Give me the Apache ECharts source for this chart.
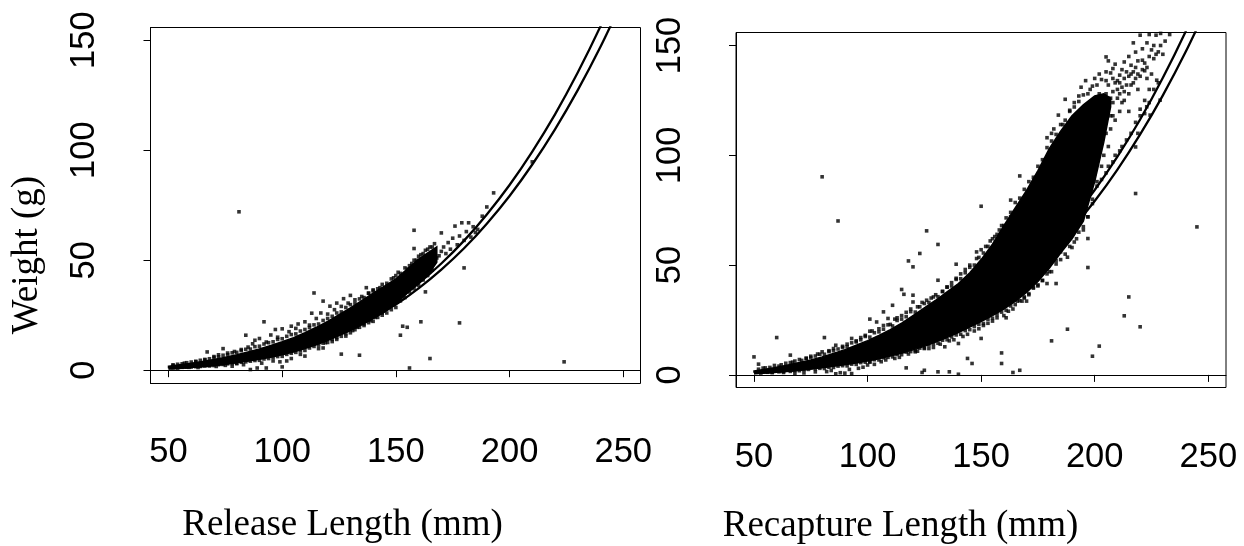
<!DOCTYPE html>
<html>
<head>
<meta charset="utf-8">
<script src="https://cdn.jsdelivr.net/npm/echarts@6/dist/echarts.min.js"></script>
<style>
html,body{margin:0;padding:0;background:#fff;}
#chart{width:1244px;height:546px;}
</style>
</head>
<body>
<div id="chart"></div>
<script>
// ---------------- data ----------------
const xTicks = [50, 100, 150, 200, 250];
const yTicks = [0, 50, 100, 150];
const xTitleLeft = 'Release Length (mm)';
const xTitleRight = 'Recapture Length (mm)';
const yTitle = 'Weight (g)';

// fitted length-weight curves
const curveAL = [50, 75, 100, 125, 150, 160, 170, 180, 190, 200, 210, 220, 230, 240, 250];
const curveAW = [0.8, 3.0, 8.0, 17.1, 31.8, 39.5, 48.5, 58.9, 70.8, 84.2, 99.4, 116.3, 135.3, 156.3, 179.4];
const curveBL = [50, 75, 100, 125, 150, 160, 170, 180, 190, 200, 210, 220, 230, 240, 250];
const curveBW = [0.7, 2.85, 7.6, 16.1, 29.9, 37.2, 45.7, 55.4, 66.6, 79.2, 93.5, 109.5, 127.3, 147.0, 168.9];

// dense core of the release-length cloud (lower / upper edge)
const relCoreL    = [50, 55, 60, 65, 70, 75, 80, 85, 90, 95, 100, 105, 110, 115, 120, 125, 130, 135, 140, 145, 150, 155, 160, 165, 168];
const relCoreLow  = [1.2, 1.4, 1.7, 2.0, 2.4, 2.9, 3.5, 4.2, 5.0, 5.9, 7.0, 8.3, 9.8, 11.5, 13.5, 15.7, 18.0, 20.6, 23.4, 26.4, 30, 35, 39.5, 44.5, 49];
const relCoreHigh = [1.8, 2.5, 3.2, 4.0, 4.9, 5.9, 7.0, 8.3, 9.7, 11.2, 12.9, 14.8, 17.0, 19.5, 22.2, 25.2, 28.3, 31.6, 35.0, 38.2, 41.5, 46, 50.5, 54, 56];

// individual release points: sparse points and outliers
const relPoints = [
 [52,2.4],[54,1.0],[57,3.2],[59,1.3],[62,3.9],[63,1.2],[66,4.6],[67,8.3],[68,2.0],[70,6.2],[71,1.7],[72,7.0],[74,9.8],[75,2.2],[76,7.8],[78,1.8],[79,8.5],[80,3.0],[81,72.0],[82,9.4],[83,2.5],[84,15.9],[85,10.5],[86,0.3],[87,12.0],[88,13.6],[89,1.0],[90,14.4],[91,3.2],[92,22.0],[93,1.0],[93,12.8],[95,16.0],[96,4.2],[97,18.5],[98,15.0],[99,3.8],[100,1.5],[100,18.8],[102,4.2],[103,17.5],[104,5.3],[104,20.0],[106,19.0],[107,21.0],[108,7.2],[110,6.4],[110,22.0],[112,20.5],[113,25.9],[114,35.1],[115,23.5],[116,9.8],[117,26.0],[118,10.1],[118,31.4],[119,12.5],[120,25.5],[121,29.1],[122,13.0],[123,27.5],[124,14.0],[124,30.5],[126,7.3],[126,29.0],[127,32.5],[128,15.5],[129,30.5],[130,34.0],[131,18.0],[132,32.0],[133,19.5],[134,6.8],[135,33.5],[136,21.0],[137,37.5],[138,35.0],[139,22.5],[140,36.0],[141,24.0],[142,34.0],[143,37.5],[144,26.0],[144,35.6],[145,35.5],[146,28.0],[147,38.0],[148,30.0],[149,42.0],[150,37.1],[150,33.0],[151,44.5],[152,15.9],[153,20.0],[153,36.0],[155,19.5],[155,46.0],[156,1.0],[156,38.5],[157,48.5],[158,63.6],[158,55.3],[158,40.0],[159,50.0],[160,43.0],[161,22.0],[161,52.5],[162,45.0],[163,35.6],[163,54.5],[164,47.0],[165,5.3],[165,56.0],[166,49.0],[167,57.5],[168,51.0],[169,52.0],[170,62.4],[170,54.0],[171,56.0],[172,53.0],[173,58.0],[174,55.0],[175,60.0],[176,65.5],[177,57.0],[178,21.5],[178,61.0],[179,67.0],[180,46.5],[180,59.0],[181,63.0],[182,67.0],[183,60.5],[184,65.2],[185,62.6],[186,64.0],[188,70.0],[190,74.2],[193,80.6],[210,94.7],[224,3.8]
];
// release points hugging the upper / lower edge of the core
const relUpperFringe = [
 [52,2.2],[54,2.7],[56,2.9],[58,3.4],[60,3.7],[62,4.0],[64,4.5],[66,4.9],[68,5.2],[70,5.8],[72,6.0],[74,6.8],[76,7.0],[78,7.9],[80,8.1],[82,8.9],[84,9.5],[86,9.6],[88,10.7],[90,10.9],[92,11.9],[94,12.5],[96,12.9],[98,14.0],[100,14.3],[102,15.4],[104,16.2],[106,16.5],[108,17.8],[110,18.5],[112,19.4],[114,20.6],[116,21.0],[118,22.6],[120,23.5],[122,24.5],[124,26.0],[126,26.5],[128,28.5],[130,29.8],[132,30.5],[134,32.4],[136,33.0],[138,35.0],[140,36.5],[142,37.0],[144,39.0],[146,39.5],[148,41.5],[150,43.0],[152,44.0],[154,46.5],[156,47.5],[158,50.0],[160,51.8],[162,53.0],[164,55.0],[166,56.0]
];
const relLowerFringe = [
 [52,1.1],[54,1.2],[56,1.3],[58,1.4],[60,1.5],[62,1.6],[64,1.7],[66,1.9],[68,2.1],[70,2.1],[72,2.5],[74,2.6],[76,2.9],[78,3.0],[80,3.1],[82,3.6],[84,3.8],[86,4.1],[88,4.4],[90,4.5],[92,5.1],[94,5.3],[96,5.8],[98,6.2],[100,6.3],[102,7.2],[104,7.7],[106,8.1],[108,8.8],[110,9.0],[112,10.1],[114,10.8],[116,11.4],[118,12.3],[120,12.6],[122,14.0],[124,14.8],[126,15.4],[128,16.6],[130,17.0],[132,18.4],[134,19.5],[136,20.3],[138,21.6],[140,22.2],[142,24.0],[144,25.0],[146,26.0],[148,27.5],[150,28.5],[152,31.5],[154,33.0],[156,35.5],[158,37.0],[160,38.5],[162,41.0],[164,43.0],[166,45.5]
];

// dense core of the recapture-length cloud (lower / upper edge)
const recCoreL    = [50, 55, 60, 65, 70, 75, 80, 85, 90, 95, 100, 105, 110, 115, 120, 125, 130, 135, 140, 145, 150, 155, 160, 165, 170, 175, 180, 185, 190, 195, 200, 204, 207];
const recCoreLow  = [1.3, 1.4, 1.6, 1.9, 2.3, 2.8, 3.3, 3.9, 4.6, 5.4, 6.3, 7.4, 8.6, 9.9, 11.4, 13.0, 15.0, 17.0, 19.3, 21.8, 24.3, 27.0, 30.0, 33.5, 37.5, 42.5, 48.5, 55.5, 62, 70, 88, 106, 122];
const recCoreHigh = [1.8, 2.6, 3.5, 4.5, 5.6, 6.8, 8.2, 9.8, 11.5, 13.5, 15.6, 18.0, 20.6, 23.6, 27.0, 30.5, 34.0, 37.8, 41.6, 46.5, 52.5, 59.5, 68, 76, 84, 93, 103, 111, 118, 123, 127, 128, 126];

// individual recapture points: sparse points and outliers
const recPoints = [
 [50,8.2],[52,4.9],[53,0.9],[55,3.2],[58,1.0],[60,17.0],[61,4.0],[63,1.1],[66,9.0],[67,5.8],[68,0.6],[70,7.0],[72,0.9],[73,7.5],[75,8.5],[77,1.4],[78,9.5],[80,90.2],[80,10.5],[81,17.0],[82,1.5],[83,11.0],[84,2.0],[85,12.0],[86,13.5],[86,0.5],[87,70.1],[88,1.0],[89,12.5],[90,0.8],[91,14.0],[92,2.5],[93,16.6],[93,0.6],[95,15.5],[96,3.0],[97,17.0],[98,3.5],[99,18.0],[100,4.5],[101,25.4],[101,19.9],[101,5.9],[102,20.0],[103,4.8],[104,24.1],[105,21.0],[106,6.0],[107,28.7],[107,22.5],[108,6.8],[109,25.7],[110,23.0],[111,31.7],[112,25.4],[112,7.5],[113,26.0],[114,8.0],[115,38.9],[115,27.0],[116,36.7],[117,3.2],[117,28.5],[118,51.9],[118,9.5],[119,30.0],[120,49.2],[120,36.3],[120,33.2],[121,10.5],[122,10.8],[122,31.0],[123,55.3],[124,1.1],[124,33.0],[125,2.1],[125,12.0],[126,65.6],[126,34.0],[127,12.0],[128,35.0],[129,12.5],[130,36.5],[131,59.4],[131,43.1],[131,1.4],[132,14.0],[133,38.0],[134,12.8],[135,40.0],[136,1.4],[136,15.5],[137,42.0],[138,16.0],[139,50.4],[139,44.0],[140,0.3],[140,14.3],[141,46.0],[142,17.5],[143,48.0],[144,7.5],[144,18.5],[145,50.0],[146,5.2],[147,20.0],[148,56.0],[148,53.0],[149,21.0],[150,76.8],[150,16.6],[150,57.0],[151,22.5],[152,58.5],[153,23.5],[154,61.0],[155,24.5],[156,63.0],[157,26.0],[158,66.0],[159,10.0],[159,5.2],[160,27.0],[160,68.0],[161,26.0],[162,29.0],[163,79.6],[163,72.0],[164,1.1],[164,30.0],[165,74.0],[166,33.6],[167,90.6],[167,2.1],[167,77.0],[168,33.6],[169,35.0],[170,33.6],[170,81.0],[171,37.0],[172,84.0],[173,40.0],[174,87.0],[175,41.0],[176,91.0],[177,43.0],[178,95.0],[179,41.6],[179,108.0],[180,47.0],[181,15.5],[181,110.0],[182,112.0],[183,41.6],[183,52.0],[184,118.3],[185,56.0],[186,114.0],[187,125.5],[188,20.8],[188,53.6],[189,120.0],[190,58.0],[191,124.0],[192,62.0],[193,127.0],[194,131.0],[195,66.0],[196,134.0],[197,62.1],[197,48.9],[197,72.0],[198,130.0],[199,8.5],[199,80.0],[200,135.0],[201,88.0],[202,13.1],[202,137.0],[203,95.0],[204,100.0],[205,144.8],[205,138.0],[206,104.0],[207,112.0],[208,135.0],[209,116.0],[210,134.0],[211,120.0],[212,139.0],[213,26.9],[213,125.0],[214,138.0],[215,35.5],[215,128.0],[216,141.0],[217,151.2],[217,133.0],[218,82.6],[218,103.8],[218,140.0],[219,110.0],[220,154.7],[220,21.9],[220,118.0],[221,143.3],[222,125.0],[222.9,122.1],[223,151.2],[224,130.0],[224.4,118.3],[225,137.0],[227,154.7],[227.3,134.2],[228,147.1],[228.8,125.1],[230,146.0],[245,67.4],
 [206,143.0],[208,139.5],[209,141.5],[211,136.5],[213,142.5],[215,145.0],[216,137.0],[218,147.0],[219,143.0],[221,148.5],[222,138.5],[224,155.0],[226,150.0],[229,155.5],[231,152.0],
 [201,86.0],[203,89.0],[205,92.0],[206,95.0],[208,97.0],[209,100.0],[211,102.0],[212,104.0],[214,107.0],[216,110.0],[218,115.0],[220,121.0],[222,119.0],[224,124.0],[226,130.0],[228,133.0],[205,110.0],[208,118.0],[212,124.0],[215,120.0],[219,130.0],[223,135.0],
 // speckled tip of the upper lobe
 [196,118],[198,122],[199,112],[200,118],[201,124],[202,108],[202,128],[203,115],[203,121],[204,126],[205,117],[205,128],[206,122],[206,132],[207,126],[207,118],[208,129],[208,124],[209,133],[210,126],[210,130],[211,128],[211,133],[212,131],[213,129],[213,135],[214,132],[215,136],[216,132],[217,138],[218,135],[219,137],[220,136],[221,139],[222,142],[223,140],[224,145],[225,148],[226,144],[227,146],[229,150],[231,157],[233,155]
];
// recapture points hugging the upper / lower edge of the core
const recUpperFringe = [
 [52,2.6],[54,3.1],[57,3.4],[59,4.3],[62,4.6],[64,5.3],[66,5.6],[68,6.3],[71,6.6],[73,7.6],[75,7.9],[77,8.6],[79,9.4],[81,9.4],[83,10.6],[85,11.0],[87,11.8],[89,13.0],[91,12.9],[93,14.6],[95,15.0],[97,16.0],[99,17.5],[101,17.2],[103,19.2],[105,19.6],[107,20.8],[109,22.8],[111,22.3],[113,24.8],[115,25.4],[117,26.5],[119,28.8],[121,28.6],[123,31.0],[125,32.5],[127,33.0],[129,35.5],[131,35.6],[133,38.0],[135,40.0],[137,40.5],[139,43.5],[141,43.8],[143,46.5],[145,49.0],[147,50.0],[149,53.5],[151,55.5],[153,58.5],[155,62.0],[157,64.0],[159,68.0],[161,71.5],[163,74.0],[165,78.5],[167,80.5],[169,84.5],[171,88.0],[173,90.0],[175,95.0],[177,98.0],[179,103.5],[181,106.5],[183,109.5],[185,114.0],[187,116.0],[189,120.5],[191,122.0],[193,124.5],[195,127.5],[197,128.0],[199,131.5],[201,132.0],[203,134.5],[205,134.0],[207,137.5]
];
const recLowerFringe = [
 [53,1.1],[56,1.2],[58,1.3],[61,1.4],[63,1.5],[66,1.6],[68,2.0],[70,1.9],[72,2.4],[74,2.5],[77,2.8],[79,3.0],[81,2.9],[83,3.5],[85,3.4],[87,4.0],[89,4.2],[91,4.1],[93,4.9],[95,4.8],[97,5.6],[99,5.8],[101,5.9],[103,6.9],[105,6.8],[107,7.8],[109,8.0],[111,8.2],[113,9.3],[115,9.2],[117,10.4],[119,10.6],[121,11.0],[123,12.2],[125,12.3],[127,13.6],[129,14.0],[131,14.4],[133,15.8],[135,16.0],[137,17.3],[139,18.2],[141,18.5],[143,20.2],[145,20.6],[147,22.0],[149,23.0],[151,23.4],[153,25.3],[155,25.8],[157,27.5],[159,28.6],[161,29.4],[163,31.4],[165,32.0],[167,33.8],[169,35.5],[171,36.5],[173,39.5],[175,40.5],[177,43.0],[179,46.0],[181,47.0],[183,50.5],[185,52.5],[187,55.0],[189,58.5],[191,60.5],[193,65.0],[195,67.5],[197,72.0],[199,78.0]
];

// ---------------- chart ----------------
const chart = echarts.init(document.getElementById('chart'), null, {renderer: 'canvas'});
const SANS = "'Liberation Sans', Arial, sans-serif";
const SERIF = "'Liberation Serif', 'Times New Roman', serif";

function pairs(xs, ys) { return xs.map((x, i) => [x, ys[i]]); }

function xAxisDef(gridIndex, min, max, margin) {
  return {
    type: 'value', gridIndex, min, max,
    axisLine: {show: true, lineStyle: {color: '#000', width: 1}},
    axisTick: {show: true, length: 7, inside: false, customValues: xTicks, lineStyle: {color: '#000', width: 1}},
    axisLabel: {show: true, customValues: xTicks, margin, color: '#000', fontFamily: SANS, fontSize: 34.5},
    splitLine: {show: false}
  };
}
function yAxisDef(gridIndex, min, max, margin) {
  return {
    type: 'value', gridIndex, min, max,
    axisLine: {show: true, lineStyle: {color: '#000', width: 1}},
    axisTick: {show: true, length: 7, inside: false, customValues: yTicks, lineStyle: {color: '#000', width: 1}},
    axisLabel: {show: true, customValues: yTicks, rotate: 90, margin, color: '#000', fontFamily: SANS, fontSize: 34.5},
    splitLine: {show: false}
  };
}

function coreSeries(idx, Ls, lows, highs) {
  return {
    type: 'custom', xAxisIndex: idx, yAxisIndex: idx, z: 2, silent: true,
    data: [[Ls[0], lows[0]]],
    encode: {x: 0, y: 1},
    renderItem: function (params, api) {
      const pts = [];
      for (let i = 0; i < Ls.length; i++) pts.push(api.coord([Ls[i], highs[i]]));
      for (let i = Ls.length - 1; i >= 0; i--) pts.push(api.coord([Ls[i], lows[i]]));
      return {type: 'polygon', shape: {points: pts}, style: {fill: '#000', stroke: '#000', lineWidth: 1.5}};
    }
  };
}
function pointSeries(idx, pts) {
  return {
    type: 'scatter', xAxisIndex: idx, yAxisIndex: idx, z: 3, silent: true,
    symbol: 'rect', symbolSize: 3.6, itemStyle: {color: '#000'},
    data: pts
  };
}
function curveSeries(idx, xs, ys) {
  return {
    type: 'line', xAxisIndex: idx, yAxisIndex: idx, z: 4, silent: true,
    showSymbol: false, smooth: 0.35, clip: true,
    lineStyle: {color: '#000', width: 2.3},
    data: pairs(xs, ys)
  };
}

chart.setOption({
  animation: false,
  backgroundColor: '#fff',
  grid: [
    {left: 150.5, top: 27.5, width: 490, height: 356, show: true, borderColor: '#000', borderWidth: 1, backgroundColor: 'transparent'},
    {left: 736, top: 32.5, width: 490, height: 355, show: true, borderColor: '#000', borderWidth: 1, backgroundColor: 'transparent'}
  ],
  xAxis: [xAxisDef(0, 42.08, 257.6, 51), xAxisDef(1, 42.08, 257.8, 52)],
  yAxis: [yAxisDef(0, -6.05, 155.77, 48.5), yAxisDef(1, -5.74, 155.92, 48.3)],
  graphic: [
    {type: 'text', x: 342.5, y: 525, silent: true,
     style: {text: xTitleLeft, font: '37px ' + SERIF, fill: '#000', textAlign: 'center', textVerticalAlign: 'middle', align: 'center', verticalAlign: 'middle'}},
    {type: 'text', x: 900.5, y: 526, silent: true,
     style: {text: xTitleRight, font: '37px ' + SERIF, fill: '#000', textAlign: 'center', textVerticalAlign: 'middle', align: 'center', verticalAlign: 'middle'}},
    {type: 'text', x: 27, y: 255, rotation: Math.PI / 2, silent: true,
     style: {text: yTitle, font: '37px ' + SERIF, fill: '#000', textAlign: 'center', textVerticalAlign: 'middle', align: 'center', verticalAlign: 'middle'}}
  ],
  series: [
    coreSeries(0, relCoreL, relCoreLow, relCoreHigh),
    pointSeries(0, relPoints),
    pointSeries(0, relUpperFringe),
    pointSeries(0, relLowerFringe),
    curveSeries(0, curveAL, curveAW),
    curveSeries(0, curveBL, curveBW),
    coreSeries(1, recCoreL, recCoreLow, recCoreHigh),
    pointSeries(1, recPoints),
    pointSeries(1, recUpperFringe),
    pointSeries(1, recLowerFringe),
    curveSeries(1, curveAL, curveAW),
    curveSeries(1, curveBL, curveBW)
  ]
});
</script>
</body>
</html>
